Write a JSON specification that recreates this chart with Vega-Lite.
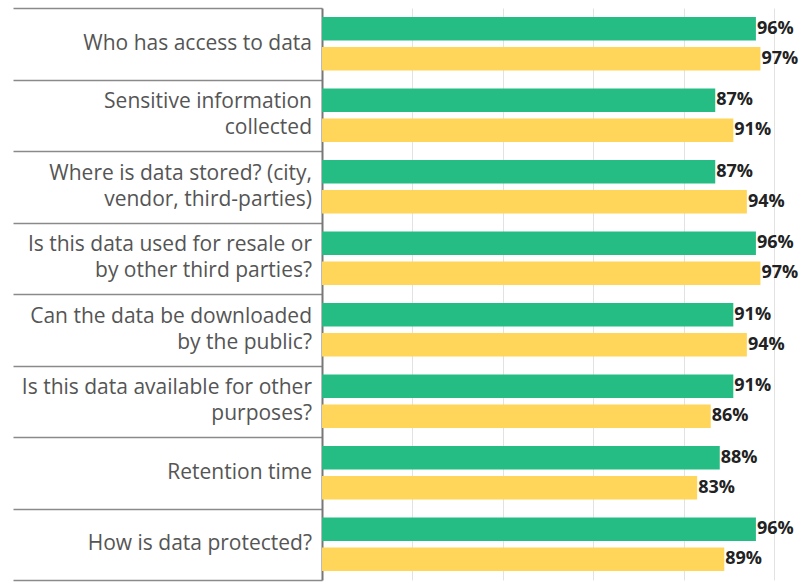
{
  "$schema": "https://vega.github.io/schema/vega-lite/v6.json",
  "width": 452,
  "height": 572,
  "autosize": {"type": "none"},
  "padding": {"left": 322, "top": 8, "right": 38, "bottom": 4},
  "background": "white",
  "config": {"view": {"stroke": null}},
  "data": {
    "values": [
      {"q": "Who has access to data", "g": "A", "v": 0.96},
      {"q": "Who has access to data", "g": "B", "v": 0.97},
      {"q": "Sensitive information|collected", "g": "A", "v": 0.87},
      {"q": "Sensitive information|collected", "g": "B", "v": 0.91},
      {"q": "Where is data stored? (city,|vendor, third-parties)", "g": "A", "v": 0.87},
      {"q": "Where is data stored? (city,|vendor, third-parties)", "g": "B", "v": 0.94},
      {"q": "Is this data used for resale or|by other third parties?", "g": "A", "v": 0.96},
      {"q": "Is this data used for resale or|by other third parties?", "g": "B", "v": 0.97},
      {"q": "Can the data be downloaded|by the public?", "g": "A", "v": 0.91},
      {"q": "Can the data be downloaded|by the public?", "g": "B", "v": 0.94},
      {"q": "Is this data available for other|purposes?", "g": "A", "v": 0.91},
      {"q": "Is this data available for other|purposes?", "g": "B", "v": 0.86},
      {"q": "Retention time", "g": "A", "v": 0.88},
      {"q": "Retention time", "g": "B", "v": 0.83},
      {"q": "How is data protected?", "g": "A", "v": 0.96},
      {"q": "How is data protected?", "g": "B", "v": 0.89}
    ]
  },
  "encoding": {
    "y": {
      "field": "q",
      "type": "nominal",
      "sort": null,
      "scale": {"paddingInner": 0, "paddingOuter": 0},
      "axis": {
        "title": null,
        "labels": false,
        "tickBand": "extent",
        "tickSize": 309,
        "tickColor": "#8a8a8a",
        "tickWidth": 1.5,
        "domainColor": "#777777",
        "domainWidth": 2
      }
    }
  },
  "layer": [
    {
      "mark": {"type": "bar"},
      "encoding": {
        "x": {
          "field": "v",
          "type": "quantitative",
          "scale": {"domain": [0, 1]},
          "axis": {
            "title": null,
            "grid": true,
            "gridColor": "#e2e2e2",
            "values": [0.2, 0.4, 0.6, 0.8, 1],
            "labels": false,
            "ticks": false,
            "domain": false
          }
        },
        "yOffset": {"field": "g", "scale": {"paddingInner": 0.223, "paddingOuter": 0.303}},
        "color": {"field": "g", "type": "nominal", "scale": {"range": ["#26BD84", "#FFD55A"]}, "legend": null}
      }
    },
    {
      "mark": {"type": "text", "align": "left", "baseline": "middle", "dx": 1, "font": "Open Sans", "fontWeight": "bold", "fontSize": 18, "color": "#222222"},
      "encoding": {
        "x": {"field": "v", "type": "quantitative"},
        "yOffset": {"field": "g"},
        "text": {"field": "v", "type": "quantitative", "format": ".0%"}
      }
    },
    {
      "transform": [{"filter": "datum.g == 'A' && indexof(datum.q, '|') < 0"}],
      "mark": {"type": "text", "align": "right", "baseline": "middle", "dx": -10, "font": "Open Sans", "fontSize": 21, "color": "#555555"},
      "encoding": {
        "x": {"datum": 0, "type": "quantitative"},
        "text": {"field": "q"}
      }
    },
    {
      "transform": [{"filter": "datum.g == 'A' && indexof(datum.q, '|') >= 0"}],
      "mark": {"type": "text", "align": "right", "baseline": "middle", "dx": -10, "dy": -13, "lineBreak": "|", "lineHeight": 26, "font": "Open Sans", "fontSize": 21, "color": "#555555"},
      "encoding": {
        "x": {"datum": 0, "type": "quantitative"},
        "text": {"field": "q"}
      }
    }
  ]
}
